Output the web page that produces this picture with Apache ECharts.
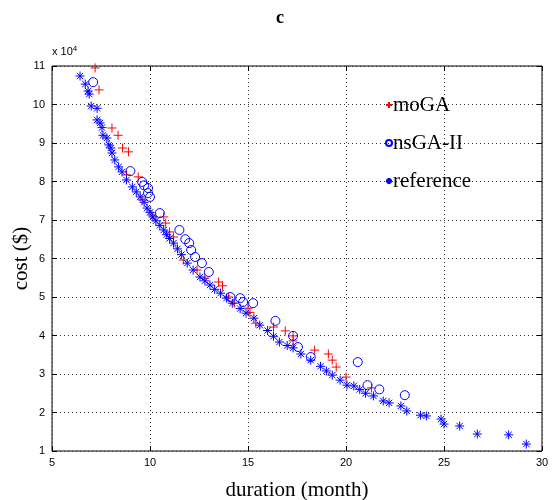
<!DOCTYPE html>
<html>
<head>
<meta charset="utf-8">
<script src="https://cdn.jsdelivr.net/npm/echarts@6/dist/echarts.min.js"></script>
<style>
  html, body { margin: 0; padding: 0; background: #fff; }
  #chart { width: 560px; height: 500px; }
</style>
</head>
<body>
<div id="chart"></div>
<script>
  // duration (month) / cost ($)
  const moGA = [
    [7.2, 109500], [7.4, 103800], [8.06, 93900], [8.37, 92000], [8.6, 88700],
    [8.9, 87700], [8.8, 81700], [9.4, 81200], [9.6, 75200], [10.1, 71300],
    [10.7, 70800], [10.8, 69200], [11.0, 66900], [11.2, 65600], [11.7, 59600],
    [12.4, 57000], [12.8, 54900], [13.5, 53900], [13.7, 52900], [14.0, 50000],
    [14.3, 48400], [15.0, 47100], [15.1, 46000], [15.4, 43200], [16.3, 42200],
    [16.9, 41200], [17.3, 39900], [17.3, 38600], [18.4, 36200], [19.1, 35200],
    [19.3, 33600], [19.5, 31800], [20.0, 29200], [21.3, 26400]
  ]

  const nsGA = [
    [7.1, 105800], [9.0, 82700], [9.6, 79900], [9.7, 79000], [9.9, 78300],
    [9.9, 77000], [10.0, 76000], [10.5, 71800], [11.5, 67400], [11.8, 65000],
    [12.0, 64000], [12.1, 62200], [12.3, 60400], [12.65, 58800], [13.0, 56500],
    [14.1, 50000], [14.6, 49700], [14.75, 48700], [15.26, 48400], [16.4, 43800],
    [17.3, 39900], [17.55, 37000], [18.2, 34400], [20.6, 33100], [21.1, 27100],
    [21.7, 26000], [23.0, 24500]
  ]

  const reference = [
    [6.43, 107400], [6.7, 105300], [6.84, 103500], [6.9, 102700], [7.0, 99600],
    [7.3, 99000], [7.3, 96000], [7.45, 95200], [7.55, 94000], [7.6, 92000],
    [7.8, 91300], [7.9, 89500], [8.0, 88700], [8.06, 87400], [8.2, 85600],
    [8.4, 83800], [8.57, 82500], [8.8, 80400], [9.1, 78600], [9.3, 77300],
    [9.5, 76000], [9.7, 74600], [9.85, 73100], [10.0, 72000], [10.15, 70800],
    [10.3, 69800], [10.5, 68600], [10.7, 67400], [10.85, 66200], [11.0, 65200],
    [11.2, 64000], [11.4, 62500], [11.6, 61000], [11.9, 58800], [12.2, 57000],
    [12.55, 55200], [12.8, 54200], [13.06, 53100], [13.3, 52000], [13.6, 51000],
    [13.9, 49700], [14.2, 48400], [14.6, 47000], [14.9, 45800], [15.3, 44500],
    [15.6, 42700], [16.0, 41300], [16.3, 39800], [16.6, 38300], [17.0, 37400],
    [17.3, 36800], [17.7, 35200], [18.2, 33600], [18.7, 32000], [19.0, 30800],
    [19.3, 29700], [19.7, 28400], [20.05, 27100], [20.4, 26900], [20.7, 26000],
    [21.0, 25000], [21.4, 24300], [21.9, 23000], [22.2, 22500], [22.8, 21700],
    [23.1, 20400], [23.8, 19300], [24.1, 19100], [24.85, 18300], [25.0, 17000],
    [25.8, 16500], [26.7, 14400], [28.3, 14200], [29.2, 11800]
  ]

  const xTicks = [5, 30, 5]
  const yTicks = [10000, 110000, 10000]

  const chart = echarts.init(document.getElementById('chart'))

  const labelFont = { color: '#000', fontFamily: 'Liberation Sans', fontSize: 11 }
  // matlab style box with inside ticks
  const tick = { show: true, inside: true, length: 5, lineStyle: { color: '#000' } }
  const dotted = { show: true, lineStyle: { color: '#333', type: [1, 3], width: 1 } }

  const plusIcon = 'path://M4,0L4,8M0,4L8,4'
  const starIcon = 'path://M4,0L4,8M0,4L8,4M1.2,1.2L6.8,6.8M6.8,1.2L1.2,6.8'

  const options = {
    animation: false,
    title: {
      text: 'c',
      left: 'center',
      top: 4,
      textStyle: { fontFamily: 'Liberation Serif', fontSize: 18, fontWeight: 'bold', color: '#000' }
    },
    grid: {
      left: 52,
      right: 18,
      top: 66,
      bottom: 49,
      outerBoundsMode: 'none',
      show: true,
      borderColor: '#000',
      borderWidth: 1
    },
    legend: {
      orient: 'vertical',
      left: 380,
      top: 88,
      itemWidth: 6,
      itemHeight: 6,
      itemGap: 14,
      data: ['moGA', 'nsGA-II', 'reference'],
      textStyle: { fontFamily: 'Liberation Serif', fontSize: 21, color: '#000', lineHeight: 24, padding: [0, 0, 0, -4] }
    },
    graphic: [{
      type: 'text',
      left: 52,
      top: 45,
      style: {
        text: 'x 10{s|4}',
        font: '11px Liberation Sans',
        fill: '#000',
        rich: { s: { fontSize: 8, verticalAlign: 'top', padding: [0, 0, 6, 0] } }
      }
    }],
    xAxis: [{
      type: 'value',
      min: xTicks[0],
      max: xTicks[1],
      interval: xTicks[2],
      name: 'duration (month)',
      nameLocation: 'middle',
      nameGap: 29,
      nameTextStyle: { fontFamily: 'Liberation Serif', fontSize: 21, color: '#000' },
      axisLine: { show: false },
      axisTick: tick,
      axisLabel: { ...labelFont, margin: 6 },
      splitLine: dotted
    }, {
      type: 'value',
      position: 'top',
      min: xTicks[0],
      max: xTicks[1],
      interval: xTicks[2],
      axisLine: { show: false },
      axisTick: tick,
      axisLabel: { show: false },
      splitLine: { show: false }
    }],
    yAxis: [{
      type: 'value',
      min: yTicks[0],
      max: yTicks[1],
      interval: yTicks[2],
      name: 'cost ($)',
      nameLocation: 'middle',
      nameGap: 20,
      nameMoveOverlap: false,
      nameTextStyle: { fontFamily: 'Liberation Serif', fontSize: 21, color: '#000' },
      axisLine: { show: false },
      axisTick: tick,
      axisLabel: { ...labelFont, margin: 7, formatter: v => v / 10000 },
      splitLine: dotted
    }, {
      type: 'value',
      position: 'right',
      min: yTicks[0],
      max: yTicks[1],
      interval: yTicks[2],
      axisLine: { show: false },
      axisTick: tick,
      axisLabel: { show: false },
      splitLine: { show: false }
    }],
    series: [{
      name: 'reference',
      type: 'scatter',
      data: reference,
      symbol: starIcon,
      symbolSize: 9,
      itemStyle: { color: 'rgba(0,0,0,0)', borderColor: '#0000ff', borderWidth: 1, opacity: 1 },
      z: 3
    }, {
      name: 'moGA',
      type: 'scatter',
      data: moGA,
      symbol: plusIcon,
      symbolSize: 9,
      itemStyle: { color: 'rgba(0,0,0,0)', borderColor: '#ff0000', borderWidth: 1, opacity: 1 },
      z: 2
    }, {
      name: 'nsGA-II',
      type: 'scatter',
      data: nsGA,
      symbol: 'circle',
      symbolSize: 9,
      itemStyle: { color: 'rgba(0,0,0,0)', borderColor: '#0000ff', borderWidth: 1, opacity: 1 },
      z: 2
    }]
  }

  chart.setOption(options)
</script>
</body>
</html>
